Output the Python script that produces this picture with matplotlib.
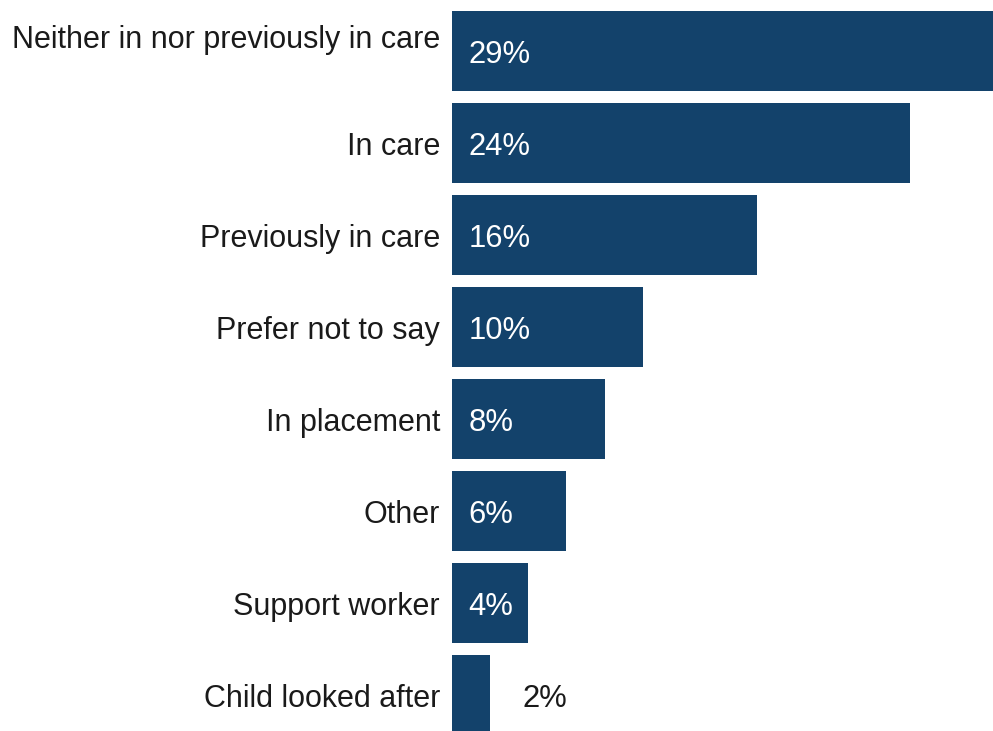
import matplotlib.pyplot as plt

plt.rcParams['font.family'] = ['Liberation Sans', 'DejaVu Sans']

categories = ['Neither in nor previously in care', 'In care', 'Previously in care',
              'Prefer not to say', 'In placement', 'Other', 'Support worker',
              'Child looked after']
values = [29, 24, 16, 10, 8, 6, 4, 2]
bar_color = '#13426B'
fs_cat = 22.0
fs_pct = 22.3

fig = plt.figure(figsize=(9.93, 7.31), dpi=100)
ax = fig.add_axes([452 / 993, 0, 1 - 452 / 993, 1])

y = range(len(categories))
ax.barh(y, values, height=0.87, color=bar_color)

ax.set_xlim(0, 28.35)
ax.set_ylim(7.391, -0.554)
ax.set_xticks([])
ax.set_yticks([])
for s in ax.spines.values():
    s.set_visible(False)

# baseline desplazada para centrar visualmente las mayusculas en la barra
base = 0.127

# nombres de categoria a la izquierda (la primera va un poco mas arriba)
for i, cat in enumerate(categories):
    yy = i + base
    if i == 0:
        yy = -0.035
    ax.text(-0.63, yy, cat, fontsize=fs_cat, color='#1a1a1a', ha='right', va='baseline',
            clip_on=False)

# etiquetas de porcentaje: dentro de la barra si cabe, fuera si no
for i, v in enumerate(values):
    if v >= 3:
        ax.text(0.86, i + base, f'{v}%', color='white', fontsize=fs_pct, va='baseline', ha='left')
    else:
        ax.text(v + 1.68, i + base, f'{v}%', color='#1a1a1a', fontsize=fs_pct, va='baseline', ha='left')

fig.savefig('out.png', dpi=100)
